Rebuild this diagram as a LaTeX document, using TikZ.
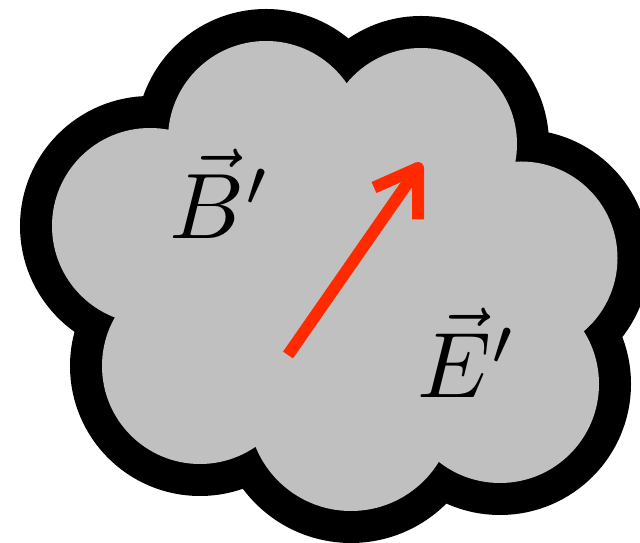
\documentclass[tikz,border=0pt]{standalone}
\usepackage{amsmath}
\usepackage{xcolor}
\definecolor{cloudgrey}{RGB}{192,192,192}
\definecolor{arrowred}{RGB}{255,42,0}
\usepackage{tikz}
\usetikzlibrary{arrows.meta}

\begin{document}
\begin{tikzpicture}[x=1pt, y=1pt,
    rim/.style={line width=64pt, black},
    vecline/.style={line width=12pt, arrowred, line cap=butt, line join=round},
    fieldlabel/.style={anchor=base west, inner sep=0pt, scale=9.3}]
    \useasboundingbox (0,0) rectangle (640,543);

    % puffs of the cloud: centre x / centre y / inner radius
    \def\puffs{150/317/98, 266/404/98, 421/399/96, 521/285/96.5, 500/159/99, 351/135/103, 200/177/98}
    \foreach \cx/\cy/\r in \puffs
        \draw[rim] (\cx,\cy) circle (\r);
    \foreach \cx/\cy/\r in \puffs
        \fill[cloudgrey] (\cx,\cy) circle (\r);
    \fill[cloudgrey] (150,317) -- (266,404) -- (421,399) -- (521,285) -- (500,159) -- (351,135) -- (200,177) -- cycle;

    \coordinate (tail) at (288,188);
    \coordinate (tip) at (418,375);
    \coordinate (barbL) at (374,355.5);
    \coordinate (barbR) at (418,323.5);
    \draw[vecline] (tail) -- (tip);
    \draw[vecline] (barbL) -- (tip) -- (barbR);

    \node[fieldlabel] (Blabel) at (168,304) {$\vec{B}'$};
    \node[fieldlabel] (Elabel) at (416,145) {$\vec{E}'$};
\end{tikzpicture}
\end{document}
